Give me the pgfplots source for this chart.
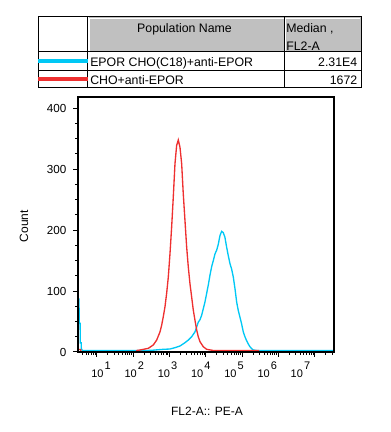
\documentclass[border=0pt]{standalone}
\usepackage{pgfplots}
\pgfplotsset{compat=1.18}
\usepackage{fontspec}
\setmainfont{Liberation Sans}
\definecolor{fjblue}{RGB}{0,200,245}
\definecolor{fjred}{RGB}{238,48,48}
\definecolor{hdrgray}{RGB}{192,192,192}
\newcommand{\dec}[1]{10\kern0.8pt\raisebox{6pt}{#1}}
\begin{document}
\begin{tikzpicture}
\useasboundingbox (0,0) rectangle (293.25pt,324pt);
\begin{scope}[x=0.75pt,y=-0.75pt,yshift=324pt]
  \fill[hdrgray] (88.5,17.5) rectangle (284,51.5);
  \fill[hdrgray] (285,17.5) rectangle (360.5,51.5);
  \draw[white,line width=0.75pt] (89.4,51) -- (89.4,18.4) -- (283.5,18.4);
  \draw[white,line width=0.75pt] (285.9,51) -- (285.9,18.4) -- (360,18.4);
  \draw[black,line width=0.75pt] (38,17) rectangle (361,88);
  \draw[black,line width=0.75pt] (87.5,17) -- (87.5,88);
  \draw[black,line width=0.75pt] (284.5,17) -- (284.5,88);
  \draw[black,line width=0.75pt] (38,52) -- (361,52);
  \draw[black,line width=0.75pt] (38,70.5) -- (361,70.5);
  \fill[fjblue] (38,59.3) rectangle (87.5,62.7);
  \fill[fjred] (38,77.3) rectangle (87.5,80.7);
  \begin{scope}[every node/.style={inner sep=0pt,font=\fontsize{9.25}{11}\selectfont}]
    \node[anchor=base] at (184.5,32.5) {Population Name};
    \node[anchor=base west] at (286,32.3) {Median ,};
    \node[anchor=base west] at (286,50.5) {FL2-A};
    \node[anchor=base west] at (90,66.6) {EPOR CHO(C18)+anti-EPOR};
    \node[anchor=base east] at (357.5,66.6) {2.31E4};
    \node[anchor=base west] at (90,85) {CHO+anti-EPOR};
    \node[anchor=base east] at (357.5,85) {1672};
  \end{scope}
\end{scope}
\begin{axis}[
  at={(58.5pt,60pt)}, anchor=south west, scale only axis,
  width=192pt, height=191.25pt,
  xmin=0.477, xmax=7.53, ymin=0, ymax=418.5,
  axis on top, clip=true,
  tick align=outside, tick pos=left,
  xtick={1,2,3,4,5,6,7}, xticklabels={},
  extra x ticks={1.110,2.026,2.942,3.858,4.774,5.690,6.606},
  extra x tick labels={\dec{1},\dec{2},\dec{3},\dec{4},\dec{5},\dec{6},\dec{7}},
  extra x tick style={tick style={draw=none}},
  minor xtick={0.602,0.699,0.778,0.845,0.903,0.954,
    1.301,1.477,1.602,1.699,1.778,1.845,1.903,1.954,
    2.301,2.477,2.602,2.699,2.778,2.845,2.903,2.954,
    3.301,3.477,3.602,3.699,3.778,3.845,3.903,3.954,
    4.301,4.477,4.602,4.699,4.778,4.845,4.903,4.954,
    5.301,5.477,5.602,5.699,5.778,5.845,5.903,5.954,
    6.301,6.477,6.602,6.699,6.778,6.845,6.903,6.954,
    7.301,7.477},
  ytick={0,100,200,300,400}, yticklabels={0,100,200,300,400},
  minor y tick num=3,
  major tick length=3.75pt, minor tick length=2.25pt,
  every tick/.style={black,line width=0.75pt},
  axis line style={line width=1.4pt},
  xticklabel style={font=\fontsize{8.25}{9}\selectfont},
  yticklabel style={font=\fontsize{8.75}{10}\selectfont, xshift=-1.5pt},
  xlabel={FL2-A:: PE-A}, ylabel={Count},
  label style={font=\fontsize{9}{11}\selectfont},
  xlabel style={at={(axis description cs:0.504,-0.231)},anchor=center},
  ylabel style={at={(axis description cs:-0.211,0.494)},anchor=center},
]
\addplot[fjblue,line width=1pt] coordinates {
(0.480,87)(0.505,87)(0.510,47)(0.535,47)(0.540,15)(0.565,15)(0.570,5)(0.600,2.5)
(2.40,2.5)(2.55,3)(2.644,3.5)(2.827,4.4)(3.011,4.9)(3.149,7.1)(3.286,9.8)(3.424,15.3)
(3.516,19.6)(3.608,25)(3.700,33)(3.746,41)(3.791,49)(3.837,53)(3.883,60)(3.929,71)
(3.975,82)(4.021,96)(4.067,110)(4.113,126)(4.159,140)(4.205,150)(4.251,161)(4.297,167)
(4.343,177)(4.388,191)(4.434,198)(4.480,196)(4.526,188)(4.572,172)(4.618,158)(4.664,145)
(4.710,136)(4.756,123)(4.802,104)(4.848,82)(4.893,68)(4.939,57)(4.985,46)(5.031,33)
(5.077,25)(5.123,18.5)(5.169,13)(5.215,8.7)(5.261,5.5)(5.307,3.3)(5.399,2.5)(7.53,2.5)
};
\addplot[fjred,line width=1pt] coordinates {
(0.480,4)(0.550,4)(0.560,0)(2.09,0)(2.10,2.5)(2.185,3.3)(2.414,6)(2.551,11.5)(2.645,19.6)
(2.736,33)(2.782,44)(2.827,58)(2.873,74)(2.919,96)(2.965,123)(3.011,161)(3.057,205)
(3.102,254)(3.149,309)(3.195,339)(3.240,348)(3.287,336)(3.333,309)(3.377,260)(3.424,216)
(3.471,172)(3.515,140)(3.562,112)(3.609,90)(3.653,69)(3.700,52)(3.747,36)(3.791,25)
(3.837,17)(3.928,8.7)(4.022,4.4)(4.204,2.5)(5.45,2.5)(5.46,0)
};
\end{axis}
\end{tikzpicture}
\end{document}
